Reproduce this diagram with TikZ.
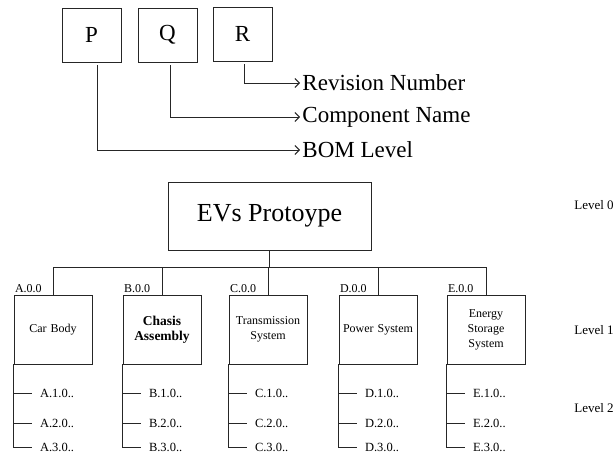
\documentclass[tikz,border=0pt]{standalone}
\usepackage{fontspec}
\setmainfont{Liberation Serif}
\usepackage{tikz}
\usetikzlibrary{positioning, calc, arrows.meta}
\tikzset{
    codebox/.style={draw, minimum width=59pt, minimum height=54pt, inner sep=0pt, font=\fontsize{23}{25}\selectfont},
    keytext/.style={anchor=west, inner sep=2pt, font=\fontsize{23}{25}\selectfont},
    rootbox/.style={draw, minimum width=203pt, minimum height=68pt, font=\fontsize{26}{28}\selectfont},
    partbox/.style={draw, minimum width=78pt, minimum height=69pt, inner sep=1pt, align=center, text width=74pt, font=\fontsize{12}{15}\selectfont},
    partcode/.style={anchor=south west, inner sep=1pt, font=\fontsize{12}{13}\selectfont},
    subitem/.style={anchor=west, inner sep=1pt, font=\fontsize{12.5}{13}\selectfont},
    levelnote/.style={inner sep=1pt, font=\fontsize{13}{14}\selectfont},
}
\begin{document}
\begin{tikzpicture}[x=1pt, y=-1pt, line width=0.9pt, draw=black!85, >={Straight Barb[length=4.5pt, width=9pt]}]
\useasboundingbox (0,0) rectangle (616,455);
% numbering key
\node[codebox] (P) at (91.5,35) {P};
\node[codebox] (Q) at (167.5,35) {Q};
\node[codebox] (R) at (242.5,34) {R};
\node[keytext] (rev) at (300,83) {Revision Number};
\node[keytext] (comp) at (300,117) {Component Name};
\node[keytext] (bom) at (300,150) {BOM Level};
\draw[->] ([xshift=1.5pt, yshift=-3pt]R.south) |- (rev.west);
\draw[->] ([xshift=2.5pt, yshift=-3pt]Q.south) |- (comp.west);
\draw[->] ([xshift=5.5pt, yshift=-3pt]P.south) |- (bom.west);
% tree
\node[rootbox] (root) at (269.5,216) {EVs Protoype};
\coordinate (bus) at (0,267);
\coordinate (row1) at (0,393);
\coordinate (row2) at (0,423);
\coordinate (row3) at (0,447);
\foreach \n/\x/\txt in {A/53/Car Body, B/162/{\bfseries\fontsize{13.5}{16}\selectfont Chasis\\Assembly}, C/268/Transmission\\System, D/378/Power System, E/486/Energy\\Storage\\System} {
    \node[partbox] (\n) at (\x,329.5) {\txt};
    \node[partcode] (\n0) at (\n.north west) {\n.0.0};
    \draw (\n.north) -- (\n.north |- bus);
    \foreach \k/\row in {1/row1, 2/row2, 3/row3} {
        \node[subitem, xshift=25pt] (\n\k) at (\n.south west |- \row) {\n.\k.0..};
        \draw (\n.south west) |- ([xshift=-7pt]\n\k.west);
    }
}
\draw (root.south) -- (root.south |- bus);
\draw (A.north |- bus) -- (E.north |- bus);
% level notes
\node[levelnote] (lvl0) at (594,205) {Level 0};
\node[levelnote] (lvl1) at (594,330) {Level 1};
\node[levelnote] (lvl2) at (594,408) {Level 2};
\end{tikzpicture}
\end{document}
